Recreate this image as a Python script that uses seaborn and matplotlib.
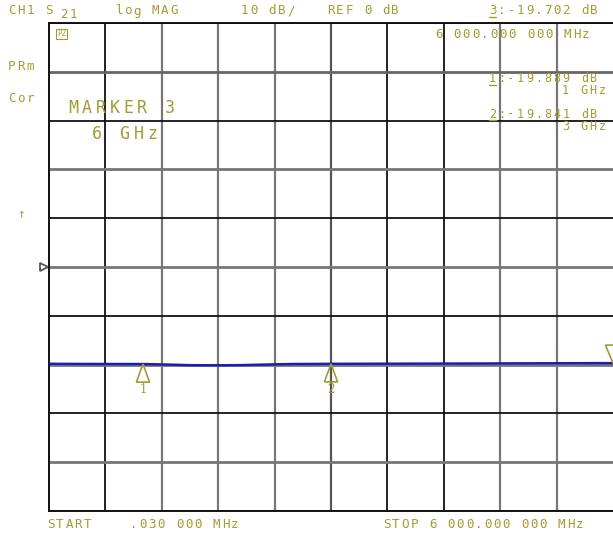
import numpy as np
import pandas as pd
import matplotlib
matplotlib.use("Agg")
import matplotlib.pyplot as plt
import matplotlib.transforms as mtransforms
from matplotlib.patches import Polygon
import seaborn as sns

# trace data (GHz, dB)
freq_ghz = [0.00003, 0.1, 0.5, 1.0, 1.27, 1.5, 1.8, 2.06, 2.33, 2.6, 3.0, 3.5, 4.0, 4.5, 5.0, 5.5, 6.0]
s21_db = [-19.82, -19.85, -19.87, -19.89, -20.0, -20.12, -20.15, -20.1, -19.98, -19.88, -19.84,
          -19.82, -19.8, -19.78, -19.75, -19.72, -19.70]

marker_ids = ["1", "2", "3"]
marker_freq = [1.0, 3.0, 6.0]
marker_db = [-19.889, -19.841, -19.702]

x_grid = [0.6 * i for i in range(10)]
x_grid_col = ["#111", "#111", "#777", "#777", "#777", "#555", "#111", "#111", "#777", "#777"]
y_grid = [-50 + 10 * i for i in range(11)]
y_grid_col = ["#111", "#777", "#111", "#777", "#111", "#777", "#111", "#777", "#111", "#666", "#111"]

TXT = "#a29c34"
W, H = 613, 533

sns.set_style("white")
plt.rcParams['font.family'] = ['DejaVu Sans Mono', 'DejaVu Sans']

fig = plt.figure(figsize=(W / 100, H / 100), dpi=100)
ax = fig.add_axes([49 / W, 22 / H, 564 / W, 488 / H])
ax.set_xlim(0, 6)
ax.set_ylim(-50, 50)
ax.set_xticks([])
ax.set_yticks([])
for side in ["left", "bottom", "top"]:
    ax.spines[side].set_color("#111")
    ax.spines[side].set_linewidth(1.4)
ax.spines["right"].set_visible(False)

for xv, c in zip(x_grid, x_grid_col):
    ax.axvline(xv, color=c, lw=1.6 if c != "#111" else 1.3, zorder=1)
for yv, c in zip(y_grid, y_grid_col):
    ax.axhline(yv, color=c, lw=2.0 if c != "#111" else 1.3, zorder=1)

df = pd.DataFrame({"freq": freq_ghz, "db": s21_db})
sns.lineplot(data=df, x="freq", y="db", ax=ax, color="#1d1db0", lw=1.8, zorder=3)
ax.set_xlabel("")
ax.set_ylabel("")

# marker triangles
for mid, f, d in zip(marker_ids, marker_freq, marker_db):
    if mid == "3":
        tri = [(f, d), (f - 0.08, d + 3.7), (f + 0.08, d + 3.7)]
    else:
        tri = [(f, d), (f - 0.07, d - 3.7), (f + 0.07, d - 3.7)]
        ax.text(f, d - 5.3, mid, color=TXT, fontsize=8.5, ha="center", va="center",
                family="DejaVu Serif", zorder=5)
    ax.add_patch(Polygon(tri, closed=True, fill=False, ec=TXT, lw=1.2, zorder=4, clip_on=False))

# reference position marker
off = mtransforms.offset_copy(ax.transData, fig=fig, x=-5, y=0, units="dots")
ax.plot([0], [0], marker=">", ms=6, mfc="white", mec="#555", mew=1.3, transform=off, clip_on=False)


def hp_text(x, y, s, pitch=9.2, size=9, color=TXT):
    # draw char by char at a fixed pitch, x/y are screen pixels from top-left
    for i, ch in enumerate(s):
        if ch == " ":
            continue
        fig.text((x + i * pitch) / W, 1 - y / H, ch, color=color, fontsize=size,
                 ha="left", va="center")


hp_text(8, 11, "CH1 S")
hp_text(60, 15, "21")
hp_text(115, 11, "log MAG")
hp_text(241, 11, "10 dB/")
hp_text(327, 11, "REF 0 dB")
hp_text(489, 11, "3:-19.702 dB")
hp_text(435, 35, "6 000.000 000 MHz")
hp_text(489, 79, "1:-19.889 dB", size=8.5)
hp_text(562, 91, "1 GHz", size=8.5)
hp_text(489, 114, "2:-19.841 dB", size=8.5)
hp_text(562, 126, "3 GHz", size=8.5)
hp_text(8, 67, "PRm")
hp_text(8, 99, "Cor")
hp_text(68, 108, "MARKER 3", pitch=13.8, size=12)
hp_text(92, 134, "6 GHz", pitch=13.8, size=12)
hp_text(17, 214, "↑", size=9)
hp_text(47, 524, "START    .030 000 MHz")
hp_text(383, 524, "STOP 6 000.000 000 MHz")
for xu, yu in [(489, 17), (489, 85), (489, 120)]:
    fig.lines.append(plt.Line2D([xu / W, (xu + 7) / W], [1 - yu / H, 1 - yu / H],
                                transform=fig.transFigure, color=TXT, lw=1))
fig.text(57 / W, 1 - 34 / H, "P2", color=TXT, fontsize=5.5, va="center",
         bbox=dict(boxstyle="square,pad=0.1", fc="none", ec=TXT, lw=0.8))

fig.savefig("out.png", dpi=100)
